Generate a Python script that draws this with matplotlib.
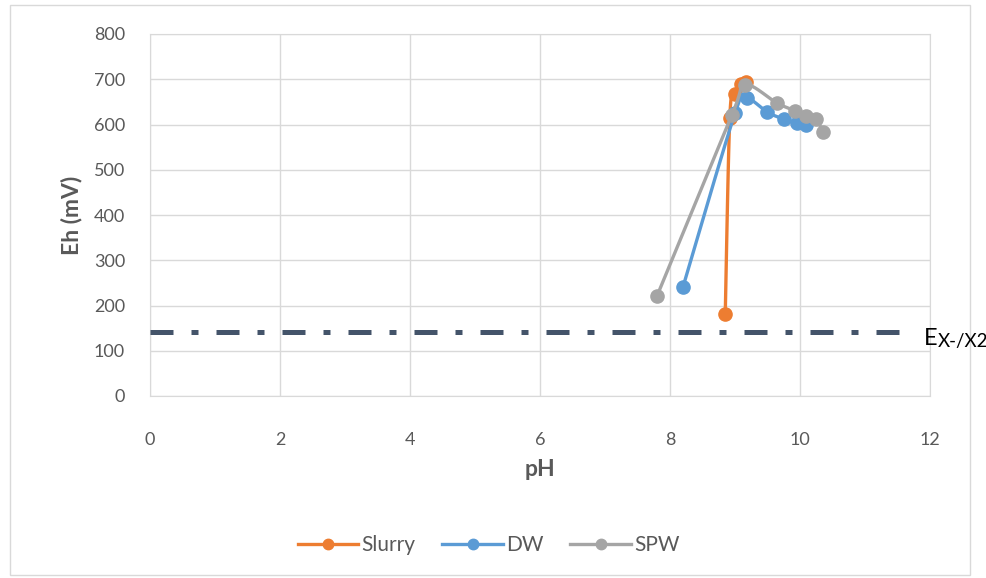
import numpy as np
import matplotlib
matplotlib.use("Agg")
import matplotlib.pyplot as plt
from matplotlib.patches import Rectangle

plt.rcParams['font.family'] = ['Lato', 'DejaVu Sans']

# data
slurry_ph = [8.85, 8.92, 9.0, 9.1, 9.17]
slurry_eh = [182, 615, 668, 690, 695]

dw_ph = [8.2, 9.0, 9.18, 9.5, 9.75, 9.95, 10.1]
dw_eh = [241, 625, 658, 627, 612, 603, 600]

spw_ph = [7.8, 8.95, 9.15, 9.65, 9.93, 10.1, 10.25, 10.35]
spw_eh = [221, 620, 688, 647, 630, 618, 612, 583]

e_line = 142
x_ticks = [0, 2, 4, 6, 8, 10, 12]
y_ticks = [0, 100, 200, 300, 400, 500, 600, 700, 800]


def smooth(x, y, n=24):
    # catmull-rom path through the points, like excel's smoothed line
    p = np.column_stack([x, y]).astype(float)
    p = np.vstack([p[0], p, p[-1]])
    out = []
    t = np.linspace(0, 1, n)
    for i in range(1, len(p) - 2):
        p0, p1, p2, p3 = p[i - 1], p[i], p[i + 1], p[i + 2]
        c1 = p1 + (p2 - p0) / 6
        c2 = p2 - (p3 - p1) / 6
        seg = ((1 - t) ** 3)[:, None] * p1 + (3 * (1 - t) ** 2 * t)[:, None] * c1 \
            + (3 * (1 - t) * t ** 2)[:, None] * c2 + (t ** 3)[:, None] * p2
        out.append(seg)
    out = np.vstack(out)
    return out[:, 0], out[:, 1]


fig = plt.figure(figsize=(9.87, 5.78), dpi=100)
ax = fig.add_axes([150 / 987, 1 - 396 / 578, 780 / 987, 362 / 578])

series = [
    ("Slurry", slurry_ph, slurry_eh, "#ED7D31"),
    ("DW", dw_ph, dw_eh, "#5B9BD5"),
    ("SPW", spw_ph, spw_eh, "#A5A5A5"),
]
for name, xs, ys, c in series:
    sx, sy = smooth(xs, ys)
    ax.plot(sx, sy, color=c, lw=2.4, solid_capstyle='round', zorder=3)
    ax.plot(xs, ys, 'o', color=c, ms=9.5, zorder=3)
    ax.plot([], [], color=c, lw=2.4, marker='o', ms=7.5, label=name)

ax.plot([0, 11.72], [e_line, e_line], color="#44546A", lw=3.6,
        dashes=(4.6, 3.6, 1.4, 3.6), zorder=4, clip_on=False)

ax.set_xlim(0, 12)
ax.set_ylim(0, 800)
ax.set_xticks(x_ticks)
ax.set_yticks(y_ticks)
ax.grid(True, color="#D9D9D9", lw=1)
ax.set_axisbelow(True)
for s in ax.spines.values():
    s.set_color("#D9D9D9")
ax.tick_params(length=0, colors="#595959", labelsize=13)
ax.tick_params(axis='x', pad=26)
ax.tick_params(axis='y', pad=18)

ax.set_xlabel("pH", fontsize=16.5, fontweight='bold', color="#595959", labelpad=8)
ax.set_ylabel("Eh (mV)", fontsize=16.5, fontweight='bold', color="#595959", labelpad=8)

fig.text(924 / 987, 1 - 345 / 578, "E", fontsize=17, color="black", va='baseline')
fig.text(938 / 987, 1 - 347 / 578, "X-/X2", fontsize=13.5, color="black", va='baseline')

fig.legend(loc='center', bbox_to_anchor=(0.495, 1 - 545 / 578), ncol=3, frameon=False,
           fontsize=15, handlelength=2.9, columnspacing=1.3, handletextpad=0.15,
           labelcolor="#595959")

fig.patches.append(Rectangle((10 / 987, 3 / 578), 960 / 987, 570 / 578,
                             transform=fig.transFigure, fill=False,
                             edgecolor="#D9D9D9", lw=1))

fig.savefig("out.png", dpi=100)
